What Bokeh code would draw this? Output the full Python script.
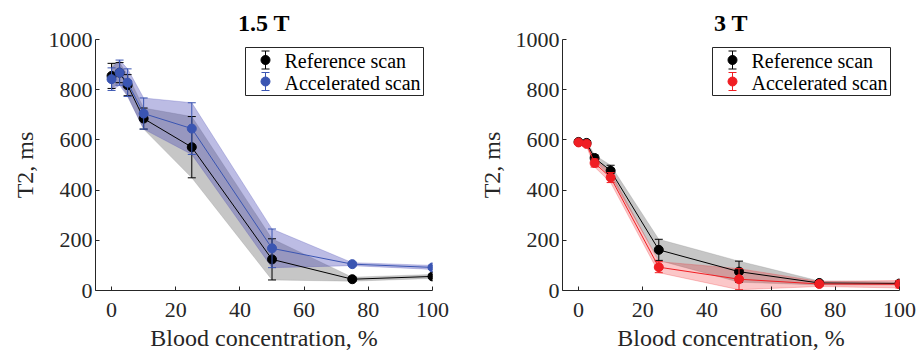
from bokeh.plotting import figure
from bokeh.layouts import row
from bokeh.models import Range1d, FixedTicker
from bokeh.core.properties import value
from bokeh.embed import file_html
from bokeh.resources import INLINE

# Blood concentration (%) of each phantom tube
conc = [0, 2.5, 5, 10, 25, 50, 75, 100]

# 1.5 T: mean T2 (ms) and standard deviation
ref15_mean = [855, 868, 818, 685, 571, 124, 45, 56]
ref15_sd = [50, 40, 42, 42, 122, 82, 8, 8]
acc15_mean = [842, 868, 828, 705, 645, 168, 105, 92]
acc15_sd = [45, 50, 55, 62, 103, 77, 6, 8]

# 3 T: mean T2 (ms) and standard deviation
ref3_mean = [592, 588, 528, 477, 162, 75, 30, 28]
ref3_sd = [8, 8, 12, 22, 42, 42, 8, 6]
acc3_mean = [590, 584, 508, 450, 93, 45, 26, 25]
acc3_sd = [8, 10, 16, 20, 22, 42, 10, 15]

x_ticks = [0, 20, 40, 60, 80, 100]
y_ticks = [0, 200, 400, 600, 800, 1000]
series_names = ["Reference scan", "Accelerated scan"]

FONT = "Liberation Serif"
AXIS_COLOR = "#262626"
X0, X1 = -5, 100
Y0, Y1 = 0, 1000
H = 357
FW, FH = 337, 251          # plot frame size in px
TOP, BOTTOM = 39, 67


def errorbars(p, x, m, e, color):
    lo = [a - b for a, b in zip(m, e)]
    hi = [a + b for a, b in zip(m, e)]
    p.segment(x0=x, y0=lo, x1=x, y1=hi, line_color=color, line_width=1)
    p.scatter(x=x + x, y=lo + hi, marker="dash", size=8, line_color=color, line_width=1)


def band(p, x, m, e, color, alpha):
    lo = [a - b for a, b in zip(m, e)]
    hi = [a + b for a, b in zip(m, e)]
    p.varea(x=x, y1=lo, y2=hi, fill_color=color, fill_alpha=alpha)
    p.line(x=x, y=lo, line_color=color, line_alpha=0.3, line_width=0.8)
    p.line(x=x, y=hi, line_color=color, line_alpha=0.3, line_width=0.8)


def make_panel(title, ref_m, ref_e, acc_m, acc_e, acc_color, acc_band, acc_alpha,
               border_left, width):
    p = figure(width=width, height=H, x_range=Range1d(X0, X1), y_range=Range1d(Y0, Y1),
               output_backend="svg", toolbar_location=None, title=title,
               min_border_left=border_left, min_border_right=width - border_left - FW,
               min_border_top=TOP, min_border_bottom=BOTTOM)
    p.outline_line_color = None
    p.grid.visible = False
    p.background_fill_color = "white"
    p.border_fill_color = "white"

    p.title.text_font = FONT
    p.title.text_font_size = "24px"
    p.title.text_font_style = "bold"
    p.title.text_color = "black"
    p.title.align = "center"
    p.title.standoff = 8

    for ax in (p.xaxis[0], p.yaxis[0]):
        ax.axis_line_color = AXIS_COLOR
        ax.major_tick_line_color = AXIS_COLOR
        ax.major_tick_in = 4
        ax.major_tick_out = 0
        ax.minor_tick_line_color = None
        ax.major_label_text_font = FONT
        ax.major_label_text_font_size = "22px"
        ax.major_label_text_color = AXIS_COLOR
        ax.axis_label_text_font = FONT
        ax.axis_label_text_font_size = "24px"
        ax.axis_label_text_font_style = "normal"
        ax.axis_label_text_color = AXIS_COLOR
    p.xaxis.ticker = FixedTicker(ticks=x_ticks)
    p.yaxis.ticker = FixedTicker(ticks=y_ticks)
    p.xaxis.axis_label = "Blood concentration, %"
    p.yaxis.axis_label = "T2, ms"
    p.xaxis.major_label_standoff = 12
    p.xaxis.axis_label_standoff = 5
    p.yaxis.major_label_standoff = 3
    p.yaxis.axis_label_standoff = 8

    # shaded +/- SD bands
    band(p, conc, ref_m, ref_e, "#808080", 0.45)
    band(p, conc, acc_m, acc_e, acc_band, acc_alpha)

    # reference scan
    errorbars(p, conc, ref_m, ref_e, "black")
    p.line(x=conc, y=ref_m, line_color="black", line_width=1)
    p.scatter(x=conc, y=ref_m, marker="circle", size=9, fill_color="black", line_color="black")

    # accelerated scan
    errorbars(p, conc, acc_m, acc_e, acc_color)
    p.line(x=conc, y=acc_m, line_color=acc_color, line_width=1)
    p.scatter(x=conc, y=acc_m, marker="circle", size=9, fill_color=acc_color, line_color=acc_color)

    # legend box in the upper right corner, laid out in frame pixels
    def fx(px):
        return X0 + px * (X1 - X0) / FW

    def fy(py):
        return Y1 - py * (Y1 - Y0) / FH

    bl, br, bt, bb = FW - 9 - 178, FW - 9, 8, 56
    p.quad(left=[fx(bl)], right=[fx(br)], top=[fy(bt)], bottom=[fy(bb)],
           fill_color="white", line_color=AXIS_COLOR, line_width=1)
    for i, (name, col) in enumerate(zip(series_names, ["black", acc_color])):
        cy = bt + 12.5 + 21.5 * i
        cx = bl + 20
        p.segment(x0=[fx(cx)], y0=[fy(cy - 9)], x1=[fx(cx)], y1=[fy(cy + 9)],
                  line_color=col, line_width=1)
        p.scatter(x=[fx(cx), fx(cx)], y=[fy(cy - 9), fy(cy + 9)], marker="dash",
                  size=8, line_color=col)
        p.scatter(x=[fx(cx)], y=[fy(cy)], marker="circle", size=9,
                  fill_color=col, line_color=col)
        p.text(x=[fx(bl + 39)], y=[fy(cy + 1)], text=[name], text_font=value(FONT),
               text_font_size="20px", text_baseline="middle", text_align="left",
               text_color="black")
    return p


p1 = make_panel("1.5 T", ref15_mean, ref15_sd, acc15_mean, acc15_sd,
                "#3a55b2", "#4444b4", 0.36, 95, 461)
p2 = make_panel("3 T", ref3_mean, ref3_sd, acc3_mean, acc3_sd,
                "#f01e23", "#f01e23", 0.25, 101, 462)

layout = row(p1, p2)
open("out.html", "w").write(file_html(layout, INLINE))
